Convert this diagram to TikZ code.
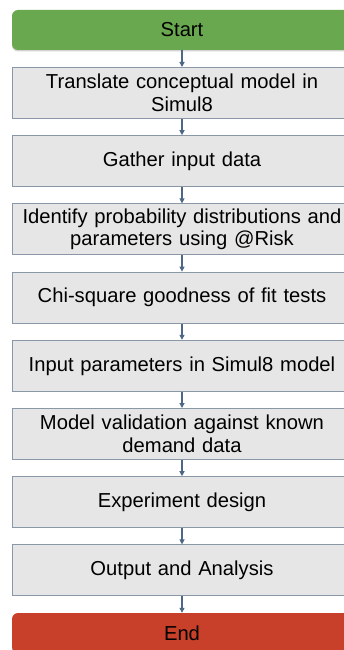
\documentclass[tikz,border=0pt]{standalone}
\usepackage{fontspec}
\setmainfont{Liberation Sans}
\usetikzlibrary{arrows.meta,shadows}
\definecolor{boxfill}{HTML}{E6E6E6}
\definecolor{boxline}{HTML}{8A97A6}
\definecolor{arrowc}{HTML}{4E6785}
\definecolor{startc}{HTML}{6AA84F}
\definecolor{endc}{HTML}{C8402A}
\tikzset{
  stepbox/.style={draw=boxline, line width=1pt, fill=boxfill, minimum width=340pt, minimum height=51pt,
    text width=336pt, align=center, inner sep=0pt, font=\fontsize{20.2pt}{22.5pt}\selectfont},
  termbox/.style={rounded corners=6pt, minimum width=340pt, inner sep=0pt, font=\fontsize{20.2pt}{22.5pt}\selectfont,
    drop shadow={shadow xshift=0pt, shadow yshift=-1.5pt, opacity=0.35}},
  flow/.style={draw=arrowc, line width=1.2pt, -{Triangle[length=5pt,width=5pt]}}
}
\begin{document}
\begin{tikzpicture}[x=1pt,y=-1pt]
\useasboundingbox (0,0) rectangle (344,650);
\clip (0,0) rectangle (344,650);
\fill[white] (0,0) rectangle (344,650);
\node[termbox, fill=startc, minimum height=40pt] (start) at (182,30) {Start};
\node[stepbox] (b1) at (182,93) {Translate conceptual model in\\Simul8};
\node[stepbox] (b2) at (182,161.2) {Gather input data};
\node[stepbox] (b3) at (182,229.4) {Identify probability distributions and\\parameters using @Risk};
\node[stepbox] (b4) at (182,297.6) {Chi-square goodness of fit tests};
\node[stepbox] (b5) at (182,365.8) {Input parameters in Simul8 model};
\node[stepbox] (b6) at (182,434) {Model validation against known\\demand data};
\node[stepbox] (b7) at (182,502.2) {Experiment design};
\node[stepbox] (b8) at (182,570.4) {Output and Analysis};
\node[termbox, fill=endc, minimum height=40pt] (end) at (182,633) {End};
\draw[flow] (start) -- (b1);
\draw[flow] (b1) -- (b2);
\draw[flow] (b2) -- (b3);
\draw[flow] (b3) -- (b4);
\draw[flow] (b4) -- (b5);
\draw[flow] (b5) -- (b6);
\draw[flow] (b6) -- (b7);
\draw[flow] (b7) -- (b8);
\draw[flow] (b8) -- (end);
\end{tikzpicture}
\end{document}
